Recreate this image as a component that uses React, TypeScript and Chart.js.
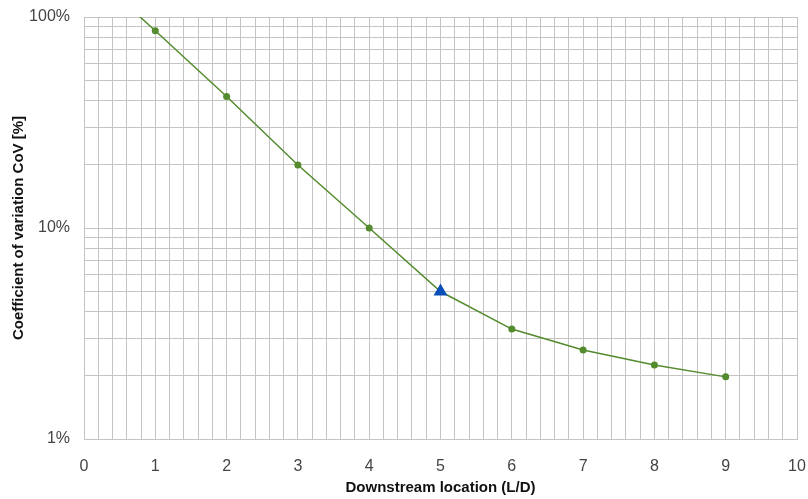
import React, { useEffect, useRef } from "react";
import { Chart, registerables } from "chart.js";

Chart.register(...registerables);

const xValues = [0, 1, 2, 3, 4, 5, 6, 7, 8, 9];
const covValues = [175, 86, 42, 19.9, 10, 5, 3.32, 2.64, 2.24, 1.97];
const highlightX = [5];
const highlightValues = [5];
const yMajorLabels = [1, 10, 100];
const xTitle = "Downstream location (L/D)";
const yTitle = "Coefficient of variation CoV [%]";

export default function App() {
  const ref = useRef<HTMLCanvasElement | null>(null);
  useEffect(() => {
    if (!ref.current) return;
    const green = "#548b2e";
    const chart = new Chart(ref.current, {
      type: "scatter",
      data: {
        datasets: [
          {
            label: "hl",
            data: highlightX.map((x, i) => ({ x, y: highlightValues[i] })),
            pointStyle: "triangle",
            pointRadius: 8,
            backgroundColor: "#0a4fb8",
            borderColor: "#0a4fb8",
            borderWidth: 0,
            showLine: false,
            order: 0,
          },
          {
            label: "CoV",
            data: xValues.map((x, i) => ({ x, y: covValues[i] })),
            borderColor: green,
            backgroundColor: green,
            borderWidth: 1.5,
            showLine: true,
            pointRadius: xValues.map((x) => (x === 0 ? 0 : 3.5)),
            pointBorderWidth: 0,
            order: 1,
          },
        ],
      },
      options: {
        animation: false,
        responsive: false,
        maintainAspectRatio: false,
        layout: { padding: { left: 0, right: 11, top: 17, bottom: 0 } },
        plugins: { legend: { display: false }, tooltip: { enabled: false } },
        scales: {
          x: {
            type: "linear",
            min: 0,
            max: 10,
            afterBuildTicks: (s: any) => {
              const t: any[] = [];
              for (let i = 0; i <= 50; i++) t.push({ value: i / 5 });
              s.ticks = t;
            },
            ticks: {
              autoSkip: false,
              maxRotation: 0,
              padding: 18,
              color: "#444",
              font: { family: "Liberation Sans, Arial, sans-serif", size: 16 },
              callback: (v: any) => {
                const n = Number(v);
                return Math.abs(n - Math.round(n)) < 1e-6 ? String(Math.round(n)) : "";
              },
            },
            grid: { color: "#c4c4c4", lineWidth: 1, drawTicks: false },
            border: { color: "#c4c4c4" },
            title: {
              display: true,
              text: xTitle,
              color: "#111",
              font: { family: "Liberation Sans, Arial, sans-serif", size: 15, weight: "bold" },
              padding: { top: 4, bottom: 2 },
            },
            afterFit: (s: any) => {
              s.height = 60;
              s.paddingLeft = 0;
              s.paddingRight = 0;
            },
          },
          y: {
            type: "logarithmic",
            min: 1,
            max: 100,
            afterBuildTicks: (s: any) => {
              const t: any[] = [];
              for (const d of [1, 10]) for (let k = 1; k < 10; k++) t.push({ value: d * k });
              t.push({ value: 100 });
              s.ticks = t;
            },
            ticks: {
              autoSkip: false,
              padding: 14,
              color: "#444",
              font: { family: "Liberation Sans, Arial, sans-serif", size: 16 },
              callback: (v: any) => {
                const n = Number(v);
                return yMajorLabels.some((m) => Math.abs(m - n) < 1e-6) ? n + "%" : "";
              },
            },
            grid: { color: "#c4c4c4", lineWidth: 1, drawTicks: false },
            border: { color: "#c4c4c4" },
            title: {
              display: true,
              text: yTitle,
              color: "#111",
              font: { family: "Liberation Sans, Arial, sans-serif", size: 15, weight: "bold" },
              padding: { top: 10, bottom: 0 },
            },
            afterFit: (s: any) => {
              s.width = 84;
              s.paddingTop = 0;
              s.paddingBottom = 0;
            },
          },
        },
      },
    });
    return () => chart.destroy();
  }, []);
  return (
    <div style={{ position: "fixed", left: 0, top: 0, width: 808, height: 499, background: "#fff" }}>
      <canvas ref={ref} width={808} height={499} style={{ width: 808, height: 499 }} />
    </div>
  );
}
